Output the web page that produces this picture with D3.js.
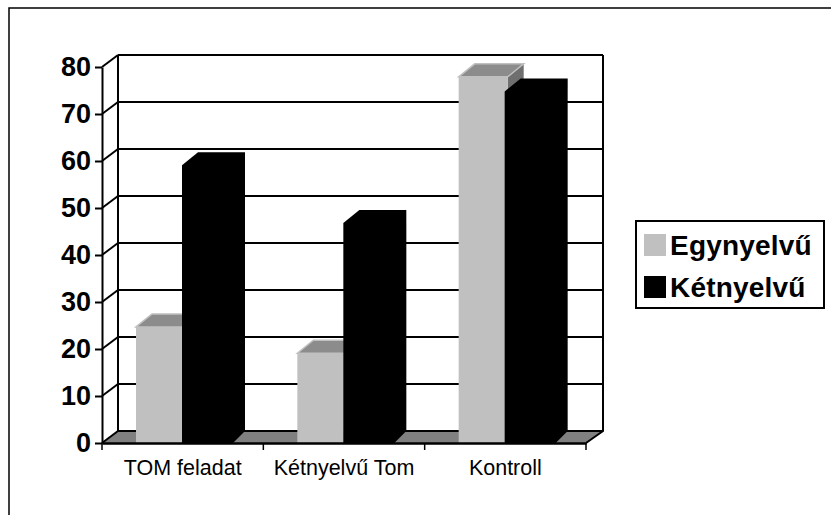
<!DOCTYPE html>
<html>
<head>
<meta charset="utf-8">
<script src="https://cdn.jsdelivr.net/npm/d3@7"></script>
<style>
  html, body { margin: 0; padding: 0; background: #fff; }
  svg { display: block; }
  text { font-family: "Liberation Sans", Arial, sans-serif; fill: #000; }
</style>
</head>
<body>
<svg id="chart" width="831" height="515"></svg>
<script>
const categories = ['TOM feladat', 'Kétnyelvű Tom', 'Kontroll'];
const series = ['Egynyelvű', 'Kétnyelvű'];
const egynyelvu = [24.7, 19.1, 77.9];
const ketnyelvu = [59.1, 46.8, 74.8];
const yTicks = [0, 10, 20, 30, 40, 50, 60, 70, 80];

const svg = d3.select('#chart');

// front plane of the fake 3d box
const plotLeft = 102, plotRight = 586, plotBottom = 443, plotTop = 67;
const wallDx = 16, wallDy = 12;
const barDx = 16, barDy = 13;

const x = d3.scaleBand().domain(categories).range([plotLeft, plotRight]);
const y = d3.scaleLinear().domain([0, 80]).range([plotBottom, plotTop]);
const barX = d3.scaleBand().domain(series).range([34, 126]);
const line = d3.line();

// chart area border, only top and left show
svg.append('path')
  .attr('d', line([[9, 515], [9, 8], [831, 8]]))
  .attr('fill', 'none').attr('stroke', '#000').attr('stroke-width', 1.5);

// floor
svg.append('path')
  .attr('d', line([[plotLeft, plotBottom], [plotLeft + wallDx, plotBottom - wallDy], [plotRight + wallDx + 1, plotBottom - wallDy], [plotRight, plotBottom]]) + 'Z')
  .attr('fill', '#808080');

// grid on the back wall and the diagonals on the side wall
const grid = svg.append('g').attr('fill', 'none').attr('stroke', '#000').attr('stroke-width', 2);
yTicks.forEach(t => {
  grid.append('path').attr('d', line([[plotLeft + wallDx, y(t) - wallDy], [plotRight + wallDx + 1, y(t) - wallDy]]));
  grid.append('path').attr('d', line([[plotLeft, y(t)], [plotLeft + wallDx, y(t) - wallDy]]));
});
grid.append('path').attr('d', line([[plotLeft + wallDx, y(80) - wallDy], [plotLeft + wallDx, y(0) - wallDy]]));
grid.append('path').attr('d', line([[plotRight + wallDx + 1, y(80) - wallDy], [plotRight + wallDx + 1, y(0) - wallDy], [plotRight, y(0)]]));

// grey bars first, the black ones sit on top of them
const grey = svg.append('g');
categories.forEach((c, i) => {
  const x0 = x(c) + barX('Egynyelvű');
  const x1 = x0 + 49;
  const yf = y(egynyelvu[i]);
  grey.append('path')
    .attr('d', line([[x1, yf], [x1 + barDx, yf - barDy], [x1 + barDx, plotBottom - wallDy], [x1, plotBottom]]) + 'Z')
    .attr('fill', '#6f6f6f');
  grey.append('path')
    .attr('d', line([[x0, yf], [x0 + barDx, yf - barDy], [x1 + barDx, yf - barDy], [x1, yf]]) + 'Z')
    .attr('fill', '#8c8c8c').attr('stroke', '#c0c0c0').attr('stroke-width', 1.5);
  grey.append('rect')
    .attr('x', x0).attr('y', yf).attr('width', x1 - x0).attr('height', plotBottom - yf)
    .attr('fill', '#c0c0c0');
});

const black = svg.append('g');
categories.forEach((c, i) => {
  const x0 = x(c) + barX('Kétnyelvű');
  const x1 = x0 + 63;
  const yf = y(ketnyelvu[i]);
  black.append('path')
    .attr('d', line([[x0, yf], [x0 + barDx, yf - barDy], [x1, yf - barDy], [x1, plotBottom - wallDy], [x1 - wallDx + 4, plotBottom], [x0, plotBottom]]) + 'Z')
    .attr('fill', '#000');
});

// axes
const yAxis = svg.append('g')
  .attr('transform', `translate(${plotLeft},0)`)
  .call(d3.axisLeft(y).tickValues(yTicks).tickSize(7).tickPadding(4).tickSizeOuter(0));
yAxis.selectAll('text').style('font-size', '27px').style('font-weight', 'bold');
yAxis.selectAll('line, path').attr('stroke', '#000').attr('stroke-width', 2);

const xAxis = svg.append('g')
  .attr('transform', `translate(0,${plotBottom})`)
  .call(d3.axisBottom(x).tickSize(0).tickPadding(17));
xAxis.selectAll('text').style('font-size', '21.5px');
xAxis.select('.domain').attr('stroke', '#000').attr('stroke-width', 2.5);
xAxis.selectAll('.edge').data([...categories.map(c => x(c)), plotRight]).join('line')
  .attr('class', 'edge')
  .attr('x1', d => d).attr('x2', d => d).attr('y1', 0).attr('y2', 7)
  .attr('stroke', '#000').attr('stroke-width', 1.5);

// legend
const legend = svg.append('g').attr('transform', 'translate(636,221)');
legend.append('rect')
  .attr('width', 188).attr('height', 87)
  .attr('fill', '#fff').attr('stroke', '#000').attr('stroke-width', 2);
const legendColor = d3.scaleOrdinal().domain(series).range(['#c0c0c0', '#000']);
const legendY = d3.scalePoint().domain(series).range([24, 66]);
series.forEach(s => {
  legend.append('rect')
    .attr('x', 8).attr('y', legendY(s) - 11).attr('width', 22).attr('height', 22)
    .attr('fill', legendColor(s));
  legend.append('text')
    .attr('x', 34).attr('y', legendY(s) + 10)
    .style('font-size', '28px').style('font-weight', 'bold').style('letter-spacing', '0.2px')
    .text(s);
});
</script>
</body>
</html>
